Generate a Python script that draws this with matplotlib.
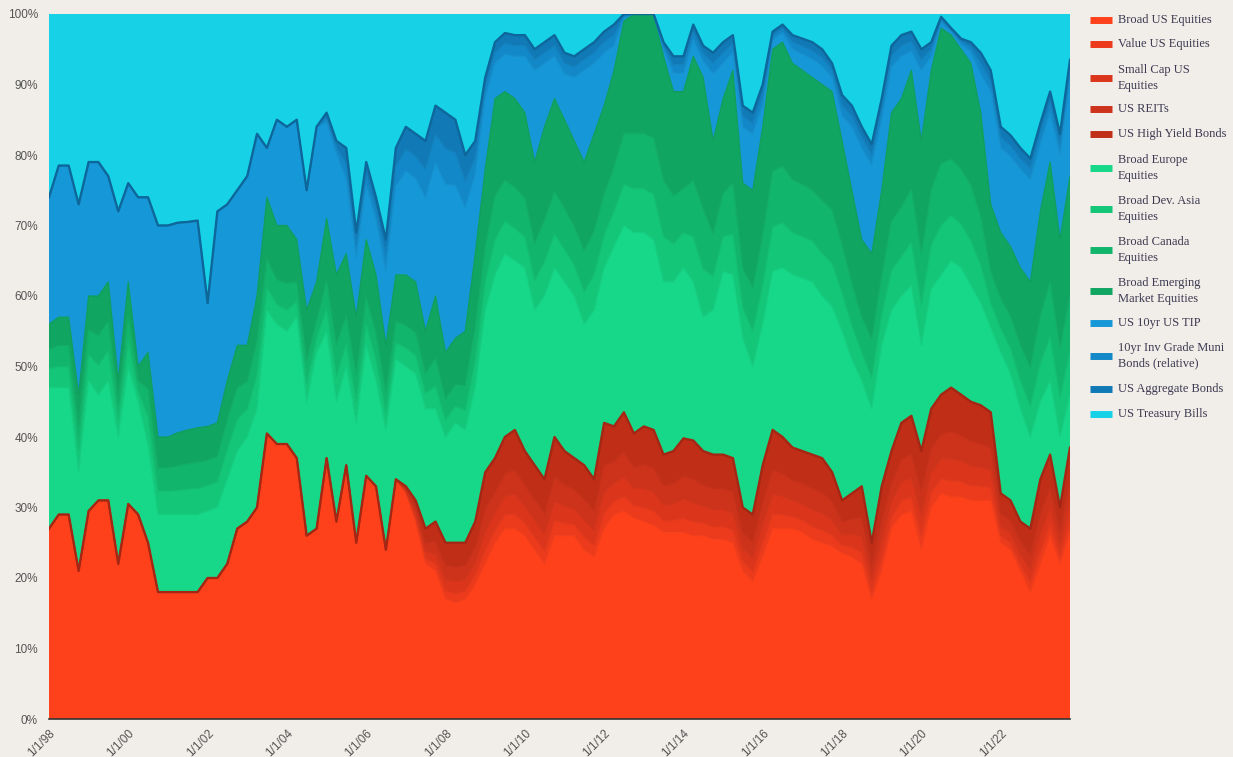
import numpy as np
import pandas as pd
import matplotlib
matplotlib.use("Agg")
import matplotlib.pyplot as plt
from matplotlib.lines import Line2D
from matplotlib.colors import to_rgb

# quarterly sample dates, Jan 1998 .. Oct 2023
dates = pd.date_range("1998-01-01", periods=104, freq="QS")

# allocation in percent, each row = two years (8 quarters)
us_broad = [27, 29, 29, 21, 29.5, 31, 31, 22,
            30.5, 29, 25, 18, 18, 18, 18, 18,
            20, 20, 22, 27, 28, 30, 40.5, 39,
            39, 37, 26, 27, 37, 28, 36, 25,
            34.5, 33, 24, 34, 32, 28, 22, 21,
            17, 16.5, 17, 19, 22, 25, 27, 27,
            26, 24, 22, 26, 26, 26, 24, 23,
            27, 29, 29.5, 28.5, 28, 27.5, 26.5, 26.5,
            26.5, 26, 26, 25.5, 25.5, 25, 21, 19.5,
            23, 27, 27, 27, 26.5, 25.5, 25, 24.5,
            23.5, 23, 22, 17, 21, 27, 29, 29.5,
            24, 30, 32, 31.5, 31.5, 31, 31, 31,
            25, 24, 21, 18, 22, 26, 22, 26.5]
us_value = [0] * 32 + [
            0, 0, 0, 0, 0.2, 0.5, 0.8, 1.0,
            1.2, 1.3, 1.2, 1.4, 2.0, 1.8, 2.0, 2.1,
            1.8, 1.8, 1.8, 2.1, 1.8, 1.6, 1.8, 1.6,
            2.2, 1.9, 2.1, 1.8, 2.0, 2.0, 1.6, 1.7,
            2.0, 2.0, 1.8, 1.8, 1.8, 1.8, 1.4, 1.4,
            2.0, 2.1, 2.0, 1.7, 1.7, 1.8, 1.8, 1.6,
            1.1, 1.4, 1.6, 1.2, 1.8, 1.6, 2.0, 2.0,
            2.1, 2.1, 2.1, 2.3, 2.2, 2.1, 2.0, 1.9,
            1.0, 1.0, 1.0, 1.4, 1.8, 1.7, 1.2, 1.8]
us_small = [0] * 32 + [
            0, 0, 0, 0, 0.2, 0.6, 1.0, 1.4,
            1.6, 1.7, 1.6, 1.8, 2.6, 2.4, 2.6, 2.8,
            2.4, 2.4, 2.4, 2.8, 2.4, 2.2, 2.4, 2.2,
            3.0, 2.5, 2.8, 2.4, 2.7, 2.7, 2.2, 2.3,
            2.7, 2.7, 2.4, 2.4, 2.4, 2.4, 1.8, 1.9,
            2.6, 2.8, 2.6, 2.3, 2.3, 2.4, 2.4, 2.1,
            1.5, 1.8, 2.2, 1.6, 2.4, 2.2, 2.6, 2.7,
            2.8, 2.8, 2.8, 3.1, 2.9, 2.8, 2.7, 2.5,
            1.4, 1.4, 1.4, 1.8, 2.4, 2.3, 1.6, 2.4]
us_reit = [0] * 32 + [
           0, 0, 0, 0, 0.2, 0.7, 1.2, 1.8,
           2.0, 2.1, 2.0, 2.2, 3.2, 3.0, 3.2, 3.5,
           3.0, 3.0, 3.0, 3.5, 3.0, 2.8, 3.0, 2.8,
           3.8, 3.1, 3.5, 3.0, 3.4, 3.4, 2.8, 2.9,
           3.3, 3.4, 3.0, 3.0, 3.0, 3.0, 2.2, 2.4,
           3.2, 3.5, 3.2, 2.9, 2.9, 3.0, 3.0, 2.6,
           1.9, 2.2, 2.8, 2.0, 3.0, 2.8, 3.2, 3.4,
           3.5, 3.5, 3.5, 3.9, 3.6, 3.5, 3.4, 3.1,
           1.8, 1.8, 1.8, 2.2, 3.0, 2.9, 2.0, 3.0]
us_high_yield = [0] * 32 + [
                 0, 0, 0, 0, 0.4, 1.2, 2.0, 2.8,
                 3.2, 3.4, 3.2, 3.6, 5.2, 4.8, 5.2, 5.6,
                 4.8, 4.8, 4.8, 5.6, 4.8, 4.4, 4.8, 4.4,
                 6.0, 5.0, 5.6, 4.8, 5.4, 5.4, 4.4, 4.6,
                 5.3, 5.4, 4.8, 4.8, 4.8, 4.8, 3.6, 3.8,
                 5.2, 5.6, 5.2, 4.6, 4.6, 4.8, 4.8, 4.2,
                 3.0, 3.6, 4.4, 3.2, 4.8, 4.4, 5.2, 5.4,
                 5.6, 5.6, 5.6, 6.2, 5.8, 5.6, 5.4, 5.0,
                 2.8, 2.8, 2.8, 3.6, 4.8, 4.6, 3.2, 4.8]
europe = [20, 18, 18, 14, 18.5, 15, 17, 18,
          19.5, 16, 14, 11, 11, 11, 11, 11,
          9.5, 10, 12, 11, 12, 14, 17.5, 17,
          16, 20, 19, 25, 18, 17, 14, 17,
          18.5, 15, 17, 17, 17, 18, 17, 16,
          15, 17, 16, 19, 23, 26, 26, 24,
          26, 22, 26, 24, 24, 23, 20, 24,
          22, 25.5, 26.5, 28.5, 27.5, 27, 24.5, 24,
          24.2, 22.5, 19, 20.5, 26, 26, 24, 21,
          20, 22.5, 24, 24.5, 24.5, 24.5, 23, 23.5,
          24, 19, 15, 19, 20, 20, 18, 18.5,
          15, 17, 17, 18, 18, 16.5, 14.5, 12,
          20, 18, 16, 13, 11, 10.5, 10, 7.5]
dev_asia = [2.7, 3, 3, 3.3, 3.6, 4.2, 4.2, 2.4,
            3.6, 1.5, 3.9, 3.3, 3.3, 3.4, 3.6, 3.7,
            3.6, 3.6, 4.2, 4.5, 3.9, 4.8, 3.2, 2.8,
            3.0, 2.2, 2.6, 2.0, 3.2, 3.6, 3.2, 3.0,
            3.0, 3.0, 2.4, 2.4, 2.6, 2.6, 2.2, 3.2,
            2.4, 2.4, 2.8, 3.8, 4.0, 5.0, 4.6, 4.6,
            4.4, 4.2, 4.8, 4.8, 4.6, 4.4, 4.6, 5.0,
            4.6, 5.0, 5.8, 6.2, 6.2, 6.4, 6.4, 5.4,
            5.0, 6.4, 6.8, 4.8, 4.9, 5.8, 4.4, 5.0,
            5.6, 6.3, 6.4, 6.0, 5.9, 5.8, 6.0, 6.1,
            5.4, 4.8, 4.0, 4.4, 4.4, 5.6, 5.6, 6.1,
            5.8, 6.2, 7.0, 6.4, 6.2, 6.3, 5.4, 3.5,
            3.4, 3.6, 4.0, 4.4, 5.4, 6.2, 5.6, 6.2]
canada = [2.7, 3, 3, 3.3, 3.6, 4.2, 4.2, 2.4,
          3.6, 1.5, 3.9, 3.3, 3.3, 3.5, 3.6, 3.7,
          3.6, 3.6, 4.2, 4.5, 3.9, 4.8, 4.0, 3.5,
          3.8, 2.8, 3.2, 2.5, 4.0, 4.5, 4.0, 3.8,
          3.8, 3.8, 3.0, 3.0, 3.2, 3.2, 2.8, 4.0,
          3.0, 3.0, 3.5, 4.8, 5.0, 6.2, 5.8, 5.8,
          5.5, 5.2, 6.0, 6.0, 5.8, 5.5, 5.8, 6.2,
          5.8, 6.2, 7.2, 7.8, 7.8, 8.0, 8.0, 6.8,
          6.2, 8.0, 8.5, 6.0, 6.1, 7.2, 5.5, 6.2,
          7.0, 7.9, 8.0, 7.5, 7.4, 7.2, 7.5, 7.6,
          6.8, 6.0, 5.0, 5.5, 5.5, 7.0, 7.0, 7.6,
          7.2, 7.8, 8.8, 8.0, 7.8, 7.9, 6.8, 4.4,
          4.2, 4.5, 5.0, 5.5, 6.8, 7.8, 7.0, 7.8]
emerging = [3.6, 4, 4, 4.4, 4.8, 5.6, 5.6, 3.2,
            4.8, 2, 5.2, 4.4, 4.4, 4.7, 4.8, 4.9,
            4.8, 4.8, 5.6, 6.0, 5.2, 6.4, 8.8, 7.7,
            8.2, 6.0, 7.2, 5.5, 8.8, 9.9, 8.8, 8.2,
            8.2, 8.2, 6.6, 6.6, 7.2, 7.2, 6.0, 8.8,
            6.6, 6.6, 7.7, 10.4, 11, 13.8, 12.6, 12.6,
            12.1, 11.6, 13.2, 13.2, 12.6, 12.1, 12.6, 13.8,
            12.6, 13.8, 16, 17, 17, 17.6, 17.6, 14.8,
            13.8, 17.6, 18.7, 13.2, 13.5, 16, 12.1, 13.8,
            15.4, 17.3, 17.6, 16.5, 16.2, 16, 16.5, 16.8,
            14.8, 13.2, 11, 12.1, 12.1, 15.4, 15.4, 16.8,
            16, 17, 19.2, 17.6, 17, 17.3, 14.8, 9.6,
            9.4, 9.9, 11, 12.1, 14.8, 17, 15.4, 17]
tips = [18, 21.5, 21.5, 27, 19, 19, 15, 24,
        14, 24, 22, 30, 30, 29.8, 29.5, 29.4,
        17.5, 30, 25, 22, 24, 23, 7, 15,
        14, 17, 17, 22, 13.6, 17.2, 10.5, 8.4,
        7.7, 7.7, 10.5, 12.6, 14.7, 14.7, 18.9, 18.9,
        23.8, 21.7, 17.5, 11.2, 10, 5, 5.3, 6,
        8, 13, 9, 6, 6.5, 9, 13, 10,
        7.5, 3.5, 0.5, 0, 0, 0, 1, 2.6,
        2.6, 2.3, 2.3, 9.5, 5, 2.6, 8, 8,
        3, 1.3, 1.3, 2, 2.3, 2.6, 2.6, 2,
        3.5, 9, 13, 12.5, 10, 6.5, 6, 2.7,
        10, 2, 0.8, 0.5, 0.7, 1.6, 5.5, 16,
        12, 12.8, 14, 14.5, 9.5, 7, 12, 13.5]
muni = [0] * 28 + [
        0.7, 0.9, 2.2, 1.8,
        1.6, 1.6, 2.2, 2.7, 3.1, 3.1, 4.0, 4.0,
        5.1, 4.6, 3.7, 2.4, 1.5, 1.5, 1.5, 1.5,
        1.5, 1.5, 1.5, 1.5, 1.5, 1.5, 1.5, 1.5,
        1.5, 1.5, 0.25, 0, 0, 0, 0.5, 1.2,
        1.2, 1.1, 1.1, 1.5, 1.5, 1.2, 1.5, 1.5,
        1.5, 0.6, 0.6, 1.0, 1.1, 1.2, 1.2, 1.0,
        1.5, 1.5, 1.5, 1.5, 1.5, 1.5, 1.5, 1.4,
        1.5, 1.0, 0.4, 0.25, 0.4, 0.7, 1.5, 1.5,
        1.5, 1.5, 1.5, 1.5, 1.5, 1.5, 1.5, 1.5]
us_agg = [0] * 28 + [
          0.7, 0.9, 2.3, 1.8,
          1.7, 1.7, 2.3, 2.7, 3.2, 3.2, 4.1, 4.1,
          5.1, 4.7, 3.8, 2.4, 1.5, 1.5, 1.5, 1.5,
          1.5, 1.5, 1.5, 1.5, 1.5, 1.5, 1.5, 1.5,
          1.5, 1.5, 0.25, 0, 0, 0, 0.5, 1.2,
          1.2, 1.1, 1.1, 1.5, 1.5, 1.2, 1.5, 1.5,
          1.5, 0.6, 0.6, 1.0, 1.1, 1.2, 1.2, 1.0,
          1.5, 1.5, 1.5, 1.5, 1.5, 1.5, 1.5, 1.4,
          1.5, 1.0, 0.4, 0.25, 0.4, 0.7, 1.5, 1.5,
          1.5, 1.5, 1.5, 1.5, 1.5, 1.5, 1.5, 1.5]
tbills = [26, 21.5, 21.5, 27, 21, 21, 23, 28,
          24, 26, 26, 30, 30, 29.7, 29.5, 29.3,
          41, 28, 27, 25, 23, 17, 19, 15,
          16, 15, 25, 16, 14, 18, 19, 31,
          21, 26, 32, 19, 16, 17, 18, 13,
          14, 15, 20, 18, 9, 4, 2.7, 3,
          3, 5, 4, 3, 5.5, 6, 5, 4,
          2.5, 1.5, 0, 0, 0, 0, 4, 6,
          6, 1.5, 4.5, 5.5, 4, 3, 13, 14,
          10, 2.5, 1.5, 3, 3.5, 4, 5, 7,
          11.5, 13, 16, 18.5, 12, 4.5, 3, 2.5,
          5, 4, 0.4, 2, 3.5, 4, 5.5, 8,
          16, 17.2, 19, 20.5, 15.5, 11, 17, 6.5]

labels = ["Broad US Equities", "Value US Equities", "Small Cap US\nEquities",
          "US REITs", "US High Yield Bonds", "Broad Europe\nEquities",
          "Broad Dev. Asia\nEquities", "Broad Canada\nEquities",
          "Broad Emerging\nMarket Equities", "US 10yr US TIP",
          "10yr Inv Grade Muni\nBonds (relative)", "US Aggregate Bonds",
          "US Treasury Bills"]
colors = ["#ff411b", "#eb3a1c", "#db361b", "#cd321a", "#c02e17",
          "#16d888", "#13c678", "#12b56c", "#10a560",
          "#1698d8", "#1388c8", "#1079b6", "#17d2e6"]
series = [us_broad, us_value, us_small, us_reit, us_high_yield, europe,
          dev_asia, canada, emerging, tips, muni, us_agg, tbills]
group_tops = {4, 11}   # red group and blue group carry a visible edge

bg = "#f1ede9"
fig = plt.figure(figsize=(12.33, 7.57), dpi=100, facecolor=bg)
ax = fig.add_axes([49 / 1233, 38 / 757, 1021 / 1233, 705 / 757])
ax.set_facecolor(bg)

ax.stackplot(dates, *series, colors=colors, linewidth=0)

# slightly darker outline on top of each layer, stronger on group edges
tops = np.cumsum(np.array(series, dtype=float), axis=0)
for i, (top, c) in enumerate(zip(tops[:-1], colors[:-1])):
    if i in group_tops:
        k, lw = 0.85, 1.7
    else:
        k, lw = 0.95, 0.9
    dark = tuple(v * k for v in to_rgb(c))
    ax.plot(dates, top, color=dark, lw=lw, solid_joinstyle="round")

ax.set_xlim(dates[0], dates[-1])
ax.set_ylim(0, 100)
ax.set_yticks(range(0, 101, 10))
ax.set_yticklabels([f"{v}%" for v in range(0, 101, 10)],
                   fontfamily="Liberation Sans", fontsize=8.5, color="#555555")
tick_dates = pd.to_datetime([f"{y}-01-01" for y in range(1998, 2023, 2)])
ax.set_xticks(tick_dates)
ax.set_xticklabels([f"1/1/{str(d.year)[2:]}" for d in tick_dates],
                   rotation=45, ha="right", rotation_mode="anchor",
                   fontfamily="Liberation Sans", fontsize=8.5, color="#555555")
ax.tick_params(axis="both", length=0)
ax.tick_params(axis="y", pad=8)
ax.tick_params(axis="x", pad=6)
for side in ["left", "right", "top"]:
    ax.spines[side].set_visible(False)
ax.spines["bottom"].set_color("#333333")
ax.spines["bottom"].set_linewidth(1.2)

# legend drawn by hand to keep the original spacing
handle_y = [20, 44, 78, 109, 134, 168, 209, 250, 291, 323, 356, 389, 414]
for lab, c, py in zip(labels, colors, handle_y):
    fy = 1 - py / 757
    fig.add_artist(Line2D([1090 / 1233, 1112 / 1233], [fy, fy],
                          color=c, lw=5, solid_capstyle="butt"))
    fig.text(1118 / 1233, fy, lab, va="center", ha="left",
             fontfamily="Liberation Serif", fontsize=9, color="#3c3a50",
             linespacing=1.35)

fig.savefig("out.png", dpi=100, facecolor=bg)
